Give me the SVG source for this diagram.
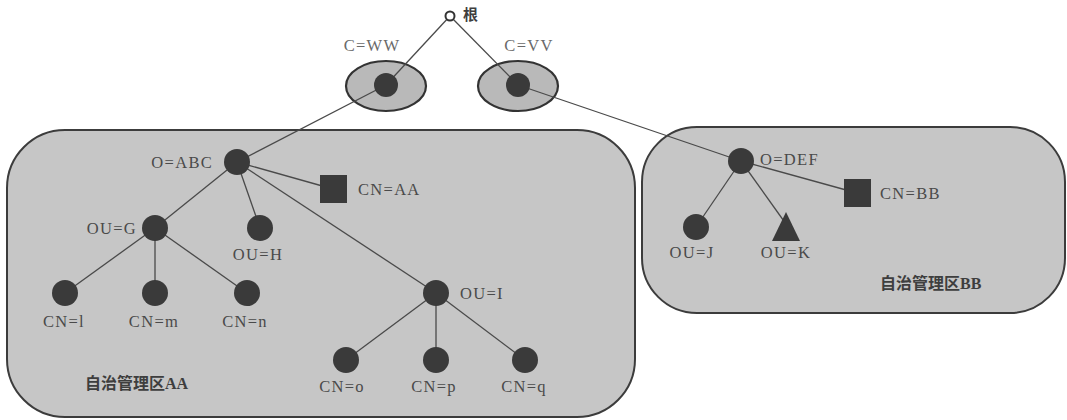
<svg xmlns="http://www.w3.org/2000/svg" width="1067" height="420" viewBox="0 0 1067 420">
<style>
.region{fill:#c6c6c6;stroke:#3c3c3c;stroke-width:2}
.ell{fill:#b9b9b9;stroke:#333;stroke-width:2.2}
.dot{fill:#3a3a3a}
.edge{stroke:#4a4a4a;stroke-width:1.3;fill:none}
.lbl{font-family:"Liberation Serif","Noto Sans CJK SC",serif;font-size:16.5px;fill:#4a4a4a;letter-spacing:1.3px}
.top{fill:#6a6a6a}
.cjk{font-family:"Liberation Serif","Noto Sans CJK SC",serif;font-size:16px;fill:#3e3e3e;font-weight:bold}
</style>
<rect width="1067" height="420" fill="#ffffff"/>
<g id="regionAA"><rect class="region" x="7" y="130" width="628" height="287" rx="58"/><text class="cjk" x="85" y="389">自治管理区AA</text></g>
<g id="regionBB"><rect class="region" x="642" y="127" width="423" height="186" rx="55"/><text class="cjk" x="880" y="289">自治管理区BB</text></g>
<g id="ellWW"><ellipse class="ell" cx="386" cy="86" rx="40" ry="25"/></g>
<g id="ellVV"><ellipse class="ell" cx="518" cy="86" rx="40" ry="25"/></g>
<g id="connectors">
<line class="edge" x1="450" y1="16" x2="386" y2="85"/>
<line class="edge" x1="386" y1="85" x2="237" y2="162"/>
<line class="edge" x1="450" y1="16" x2="518" y2="85"/>
<line class="edge" x1="518" y1="85" x2="741" y2="161"/>
<line class="edge" x1="237" y1="162" x2="333" y2="189"/>
<line class="edge" x1="237" y1="162" x2="155" y2="228"/>
<line class="edge" x1="237" y1="162" x2="260" y2="228"/>
<line class="edge" x1="237" y1="162" x2="436" y2="293"/>
<line class="edge" x1="155" y1="228" x2="65" y2="293"/>
<line class="edge" x1="155" y1="228" x2="155" y2="293"/>
<line class="edge" x1="155" y1="228" x2="247" y2="293"/>
<line class="edge" x1="436" y1="293" x2="346" y2="360"/>
<line class="edge" x1="436" y1="293" x2="436" y2="360"/>
<line class="edge" x1="436" y1="293" x2="525" y2="360"/>
<line class="edge" x1="741" y1="161" x2="857" y2="193"/>
<line class="edge" x1="741" y1="161" x2="696" y2="227"/>
<line class="edge" x1="741" y1="161" x2="786" y2="224"/>
</g>
<g id="root"><circle cx="450" cy="16" r="4.5" fill="#fff" stroke="#333" stroke-width="2"/><text class="cjk" x="463" y="20" style="font-size:15px">根</text></g>
<g id="nodeWW"><circle class="dot" cx="386" cy="85" r="12"/><text class="lbl top" x="372" y="51" text-anchor="middle">C=WW</text></g>
<g id="nodeVV"><circle class="dot" cx="518" cy="85" r="12"/><text class="lbl top" x="529" y="51" text-anchor="middle">C=VV</text></g>
<g id="nodeABC"><circle class="dot" cx="237" cy="162" r="13"/><text class="lbl" x="213" y="168" text-anchor="end">O=ABC</text></g>
<g id="nodeAA"><rect class="dot" x="320" y="175" width="27" height="28"/><text class="lbl" x="358" y="195">CN=AA</text></g>
<g id="nodeG"><circle class="dot" cx="155" cy="228" r="13"/><text class="lbl" x="137" y="234" text-anchor="end">OU=G</text></g>
<g id="nodeH"><circle class="dot" cx="260" cy="228" r="13"/><text class="lbl" x="258" y="260" text-anchor="middle">OU=H</text></g>
<g id="nodeL"><circle class="dot" cx="65" cy="293" r="13"/><text class="lbl" x="64" y="327" text-anchor="middle">CN=l</text></g>
<g id="nodeM"><circle class="dot" cx="155" cy="293" r="13"/><text class="lbl" x="154" y="327" text-anchor="middle">CN=m</text></g>
<g id="nodeN"><circle class="dot" cx="247" cy="293" r="13"/><text class="lbl" x="245" y="327" text-anchor="middle">CN=n</text></g>
<g id="nodeI"><circle class="dot" cx="436" cy="293" r="13"/><text class="lbl" x="460" y="299">OU=I</text></g>
<g id="nodeO"><circle class="dot" cx="346" cy="360" r="13"/><text class="lbl" x="342" y="392" text-anchor="middle">CN=o</text></g>
<g id="nodeP"><circle class="dot" cx="436" cy="360" r="13"/><text class="lbl" x="434" y="392" text-anchor="middle">CN=p</text></g>
<g id="nodeQ"><circle class="dot" cx="525" cy="360" r="13"/><text class="lbl" x="524" y="392" text-anchor="middle">CN=q</text></g>
<g id="nodeDEF"><circle class="dot" cx="741" cy="161" r="13"/><text class="lbl" x="760" y="165">O=DEF</text></g>
<g id="nodeBB"><rect class="dot" x="844" y="179" width="27" height="28"/><text class="lbl" x="880" y="199">CN=BB</text></g>
<g id="nodeJ"><circle class="dot" cx="696" cy="227" r="13"/><text class="lbl" x="692" y="258" text-anchor="middle">OU=J</text></g>
<g id="nodeK"><polygon class="dot" points="786,212 800,241 772,241"/><text class="lbl" x="786" y="258" text-anchor="middle">OU=K</text></g>
</svg>
